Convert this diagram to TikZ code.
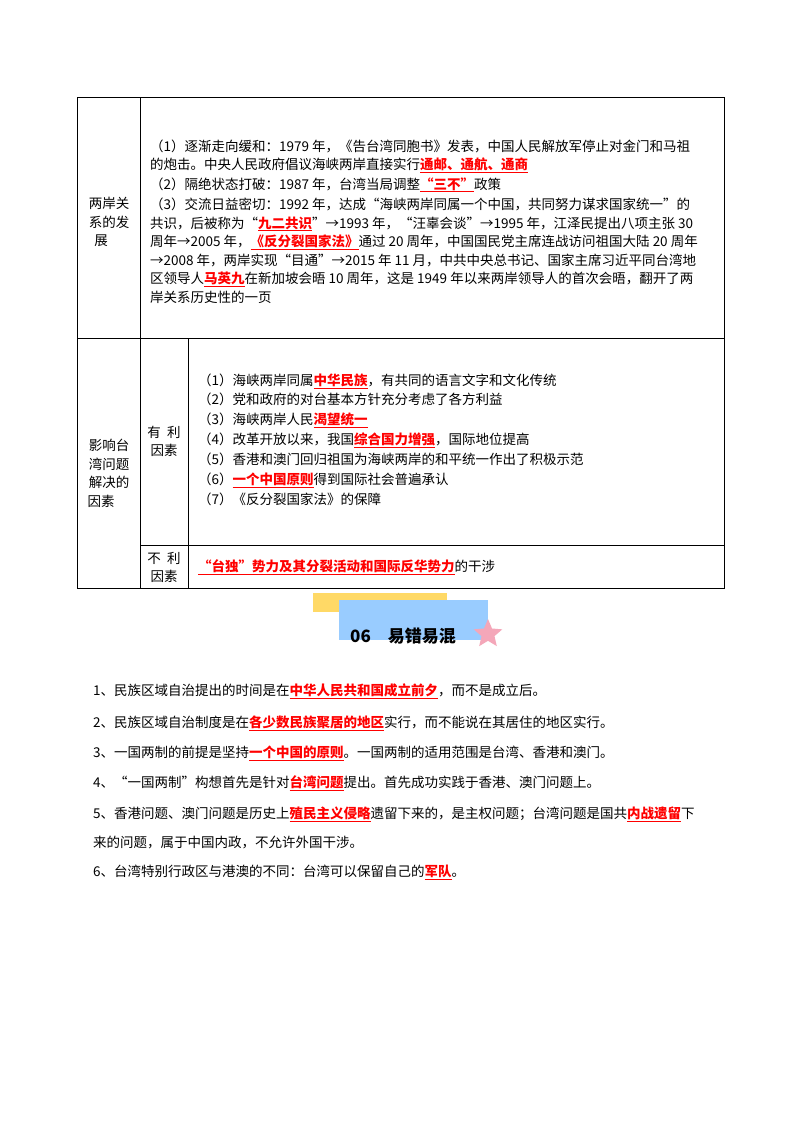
\documentclass[tikz,border=0pt]{standalone}
\usepackage{fontspec}
\setmainfont{Noto Sans CJK SC}
\usetikzlibrary{shapes.geometric}
\definecolor{hy}{HTML}{FFD966}
\definecolor{hb}{HTML}{99CCFF}
\definecolor{hp}{HTML}{F4A7B9}
\newcommand{\hl}[1]{{\color{red}\bfseries\underline{#1}}}
\begin{document}
\begin{tikzpicture}[x=1pt,y=-1pt,
  t/.style={anchor=base west,inner sep=0pt,font=\fontsize{13.5}{16}\selectfont},
  lab/.style={anchor=base,inner sep=0pt,font=\fontsize{13.5}{16}\selectfont},
  grid/.style={line width=0.8pt}]
\useasboundingbox (0,0) rectangle (800,1132);
\fill[white] (0,0) rectangle (800,1132);
% table
\draw[grid] (77,97) rectangle (724,588);
\draw[grid] (77,338) -- (724,338);
\draw[grid] (140,97) -- (140,588);
\draw[grid] (188,338) -- (188,588);
\draw[grid] (140,545) -- (724,545);
% row 1 label
\node[lab] (a1) at (109,208) {两岸关};
\node[lab] (a2) at (109,227) {系的发};
\node[lab] (a3) at (101,245) {展};
\node[t] (r1) at (150,151) {（1）逐渐走向缓和：1979 年，《告台湾同胞书》发表，中国人民解放军停止对金门和马祖};
\node[t] (r2) at (150,169) {的炮击。中央人民政府倡议海峡两岸直接实行\hl{通邮、通航、通商}};
\node[t] (r3) at (150,189) {（2）隔绝状态打破：1987 年，台湾当局调整\hl{“三不”}政策};
\node[t] (r4) at (150,209) {（3）交流日益密切：1992 年，达成“海峡两岸同属一个中国，共同努力谋求国家统一”的};
\node[t] (r5) at (150,228) {共识，后被称为“\hl{九二共识}”→1993 年，“汪辜会谈”→1995 年，江泽民提出八项主张 30};
\node[t] (r6) at (150,246) {周年→2005 年，\hl{《反分裂国家法》}通过 20 周年，中国国民党主席连战访问祖国大陆 20 周年};
\node[t] (r7) at (150,265) {→2008 年，两岸实现“目通”→2015 年 11 月，中共中央总书记、国家主席习近平同台湾地};
\node[t] (r8) at (150,283) {区领导人\hl{马英九}在新加坡会晤 10 周年，这是 1949 年以来两岸领导人的首次会晤，翻开了两};
\node[t] (r9) at (150,302) {岸关系历史性的一页};
% row 2
\node[lab] (b1) at (109,450) {影响台};
\node[lab] (b2) at (109,469) {湾问题};
\node[lab] (b3) at (109,487) {解决的};
\node[lab] (b4) at (101,506) {因素};
\node[lab] (c1) at (164,437) {有\ \ 利};
\node[lab] (c2) at (164,455) {因素};
\node[t] (s1) at (198,385) {（1）海峡两岸同属\hl{中华民族}，有共同的语言文字和文化传统};
\node[t] (s2) at (198,404) {（2）党和政府的对台基本方针充分考虑了各方利益};
\node[t] (s3) at (198,424) {（3）海峡两岸人民\hl{渴望统一}};
\node[t] (s4) at (198,444) {（4）改革开放以来，我国\hl{综合国力增强}，国际地位提高};
\node[t] (s5) at (198,464) {（5）香港和澳门回归祖国为海峡两岸的和平统一作出了积极示范};
\node[t] (s6) at (198,484) {（6）\hl{一个中国原则}得到国际社会普遍承认};
\node[t] (s7) at (198,504) {（7）《反分裂国家法》的保障};
\node[lab] (d1) at (164,563) {不\ \ 利};
\node[lab] (d2) at (164,581) {因素};
\node[t] (u1) at (198,571) {\hl{“台独”势力及其分裂活动和国际反华势力}的干涉};
% heading
\fill[hy] (313,593) rectangle (447,612);
\fill[hb] (339,600) rectangle (488,640);
\node[star,star points=5,star point ratio=2.2,fill=hp,inner sep=0pt,minimum size=30pt] (st) at (488,634) {};
\node[t,font=\fontsize{17}{20}\selectfont\bfseries] (h) at (350,642) {06\quad 易错易混};
% list
\node[t] (l1) at (93,695) {1、民族区域自治提出的时间是在\hl{中华人民共和国成立前夕}，而不是成立后。};
\node[t] (l2) at (93,727) {2、民族区域自治制度是在\hl{各少数民族聚居的地区}实行，而不能说在其居住的地区实行。};
\node[t] (l3) at (93,757) {3、一国两制的前提是坚持\hl{一个中国的原则}。一国两制的适用范围是台湾、香港和澳门。};
\node[t] (l4) at (93,787) {4、“一国两制”构想首先是针对\hl{台湾问题}提出。首先成功实践于香港、澳门问题上。};
\node[t] (l5) at (93,818) {5、香港问题、澳门问题是历史上\hl{殖民主义侵略}遗留下来的，是主权问题；台湾问题是国共\hl{内战遗留}下};
\node[t] (l5b) at (93,847) {来的问题，属于中国内政，不允许外国干涉。};
\node[t] (l6) at (93,876) {6、台湾特别行政区与港澳的不同：台湾可以保留自己的\hl{军队}。};
\end{tikzpicture}
\end{document}
